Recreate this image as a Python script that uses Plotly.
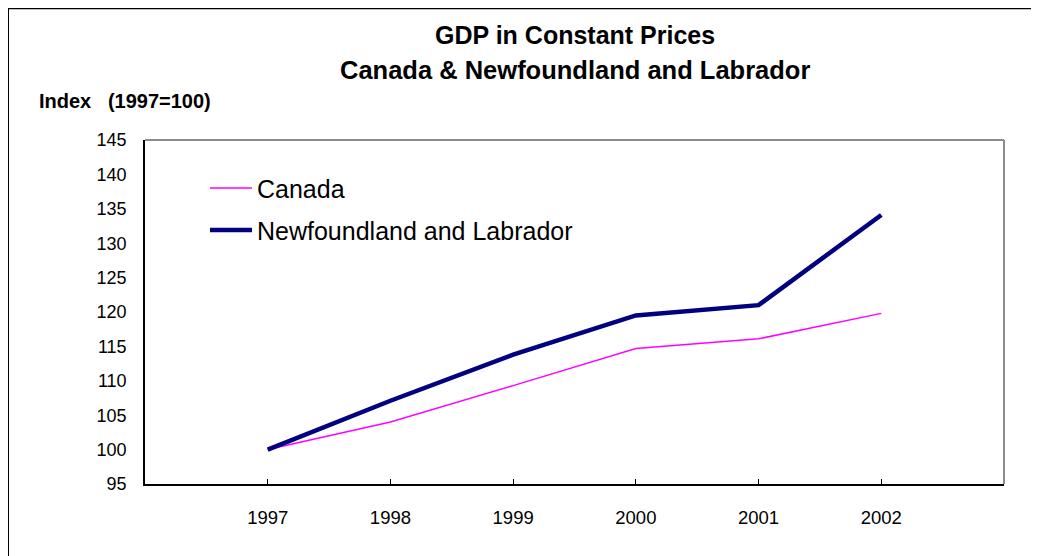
import plotly.graph_objects as go

years = [1997, 1998, 1999, 2000, 2001, 2002]
canada = [100.0, 104.0, 109.3, 114.7, 116.1, 119.8]
nl = [100.0, 107.1, 113.8, 119.5, 121.0, 134.1]
y_ticks = [95, 100, 105, 110, 115, 120, 125, 130, 135, 140, 145]
x_ticks = [1996, 1997, 1998, 1999, 2000, 2001, 2002, 2003]
x_labels = ["", "1997", "1998", "1999", "2000", "2001", "2002", ""]

# page body has an 8px margin, so the figure is drawn smaller and offset
W, H = 1031, 548
L, R, T, B = 137, 996, 131.7, 475.7
FONT = "Liberation Sans, Arial, sans-serif"

fig = go.Figure()
fig.add_trace(go.Scatter(x=years, y=canada, name="Canada", mode="lines",
                         line=dict(color="#FF00FF", width=1.5), legend="legend"))
fig.add_trace(go.Scatter(x=years, y=nl, name="Newfoundland and Labrador", mode="lines",
                         line=dict(color="#000080", width=4.5), legend="legend2"))


def px(xp):
    return (xp - L) / (R - L)


def py(yp):
    return (B - yp) / (B - T)


fig.update_layout(
    width=W, height=H,
    margin=dict(l=L, r=W - R, t=T, b=H - B, pad=0),
    paper_bgcolor="white", plot_bgcolor="white",
    font=dict(family=FONT, color="black"),
    showlegend=True,
    legend=dict(x=px(197), y=py(180), xanchor="left", yanchor="middle",
                bgcolor="rgba(0,0,0,0)", itemwidth=42, font=dict(size=25, family=FONT)),
    legend2=dict(x=px(197), y=py(222), xanchor="left", yanchor="middle",
                 bgcolor="rgba(0,0,0,0)", itemwidth=42, font=dict(size=25, family=FONT)),
    xaxis=dict(range=[1996, 2003], tickmode="array", tickvals=x_ticks, ticktext=x_labels,
               ticks="inside", ticklen=5, tickcolor="black", tickwidth=1,
               showline=True, linecolor="black", linewidth=1.5, showgrid=False, zeroline=False,
               tickfont=dict(size=18.5, family=FONT), ticklabelstandoff=16),
    yaxis=dict(range=[95, 145], tickmode="array", tickvals=y_ticks,
               ticks="", showline=True, linecolor="black", linewidth=1.5,
               showgrid=False, zeroline=False,
               tickfont=dict(size=18, family=FONT), ticklabelstandoff=13),
    annotations=[
        dict(text="<b>GDP in Constant Prices</b>", xref="paper", yref="paper",
             x=0.5, y=py(27), xanchor="center", yanchor="middle", showarrow=False,
             font=dict(size=25, family=FONT)),
        dict(text="<b>Canada & Newfoundland and Labrador</b>", xref="paper", yref="paper",
             x=0.5, y=py(62), xanchor="center", yanchor="middle", showarrow=False,
             font=dict(size=25.5, family=FONT)),
        dict(text="<b>Index   (1997=100)</b>", xref="paper", yref="paper",
             x=px(29), y=py(93), xanchor="left", yanchor="middle", showarrow=False,
             font=dict(size=20, family=FONT)),
    ],
    shapes=[
        dict(type="line", xref="paper", yref="paper", x0=0, x1=1, y0=1, y1=1,
             line=dict(color="#8C8C8C", width=2)),
        dict(type="line", xref="paper", yref="paper", x0=1, x1=1, y0=0, y1=1,
             line=dict(color="#8C8C8C", width=2)),
        dict(type="line", xref="paper", yref="paper", x0=px(0), x1=px(W), y0=py(0), y1=py(0),
             line=dict(color="black", width=2)),
        dict(type="line", xref="paper", yref="paper", x0=px(0), x1=px(0), y0=py(0), y1=py(H),
             line=dict(color="black", width=2)),
    ],
)

fig.write_html("out.html")
